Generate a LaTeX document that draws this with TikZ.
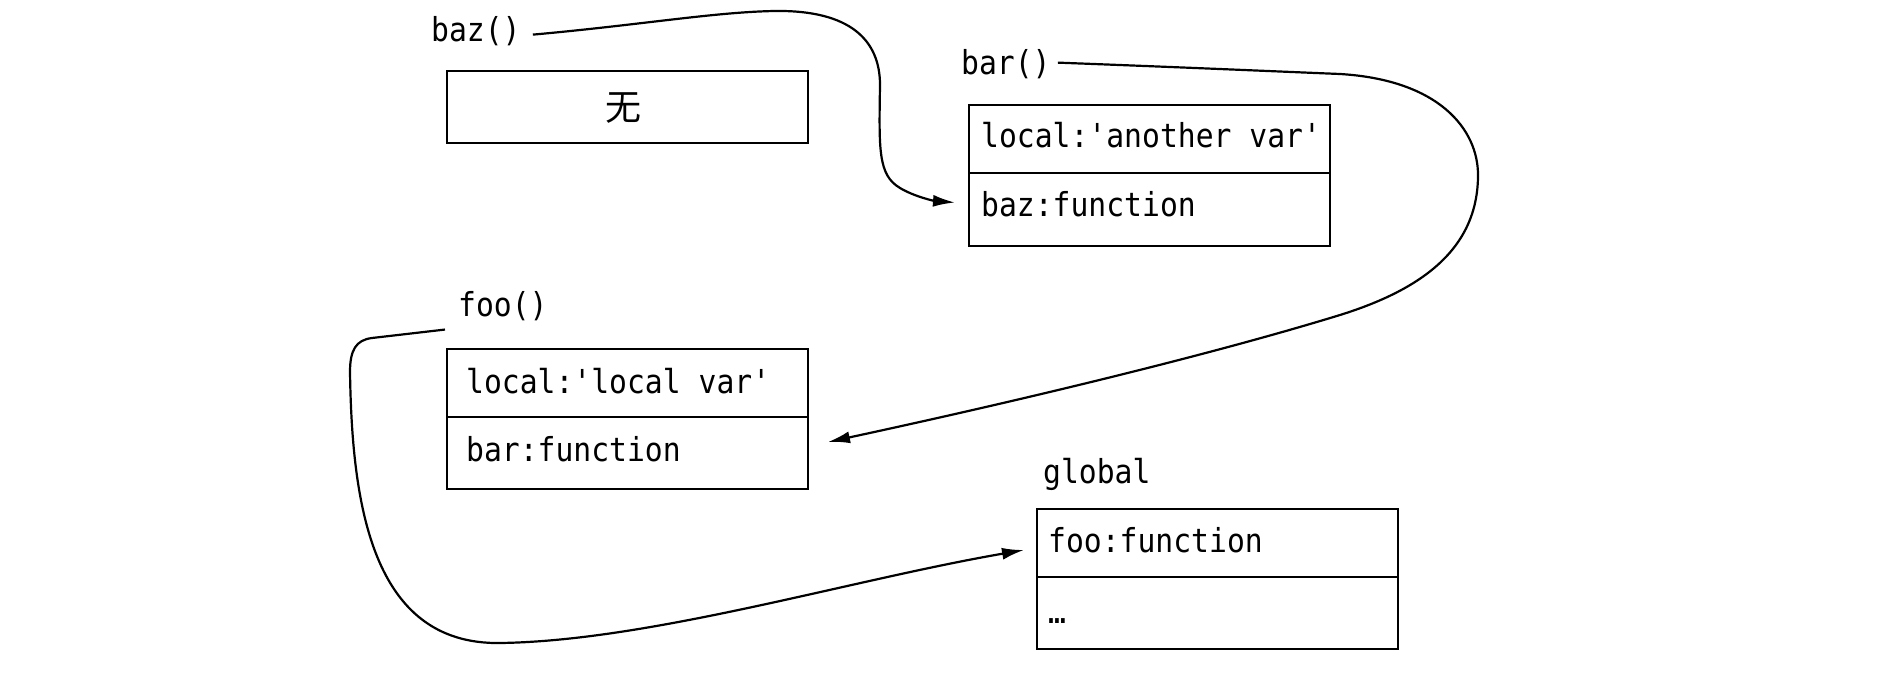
\documentclass[tikz,border=0pt]{standalone}
\usepackage{fontspec}
\setmonofont[FakeStretch=0.9]{DejaVu Sans Mono}
\newfontfamily\cjk{Noto Sans CJK SC}
\usetikzlibrary{arrows.meta}
\begin{document}
\begin{tikzpicture}[x=1pt,y=-1pt,
  cell/.style={draw, line width=2.4pt, minimum width=361pt, minimum height=68pt,
    anchor=north west, inner sep=0pt, outer sep=0pt},
  code/.style={inner sep=0pt, anchor=base west, font=\ttfamily\fontsize{33}{40}\selectfont},
  link/.style={line width=2.2pt, -{Latex[length=22pt,width=12pt]}}]
\useasboundingbox (0,0) rectangle (1882,684);

% scope frames
\node[cell, minimum height=72pt] (none) at (447,71) {};
\node[cell] (barlocal) at (969,105) {};
\node[cell, minimum height=73pt] (barbaz) at (969,173) {};
\node[cell] (foolocal) at (447,349) {};
\node[cell, minimum height=72pt] (foobar) at (447,417) {};
\node[cell] (globfoo) at (1037,509) {};
\node[cell, minimum height=72pt] (globrest) at (1037,577) {};

% frame titles
\node[code] (bazlbl) at (431,42) {baz()};
\node[code] (barlbl) at (961,75) {bar()};
\node[code] (foolbl) at (458,317) {foo()};
\node[code] (globlbl) at (1043,483) {global};

% frame contents
\node[inner sep=0pt, anchor=base, font=\cjk\fontsize{36}{40}\selectfont] (nonetxt) at (623,121) {无};
\node[code] (t1) at (981,148) {local:'another var'};
\node[code] (t2) at (981,217) {baz:function};
\node[code] (t3) at (466,393) {local:'local var'};
\node[code] (t4) at (466,461) {bar:function};
\node[code] (t5) at (1048,552) {foo:function};
\node[code] (t6) at (1048,623) {…};

% scope chain links
\draw[link] ([xshift=12pt,yshift=-3pt]bazlbl.east)
  .. controls (640,25) and (715,12) .. (775,11)
  .. controls (850,10) and (880,40) .. (880,85)
  .. controls (879,150) and (878,175) .. (900,188)
  .. controls (915,197) and (935,201) .. ([xshift=-14pt,yshift=7pt]barbaz.west);

\draw[link] ([xshift=7pt,yshift=2pt]barlbl.east)
  .. controls (1200,68) and (1290,72) .. (1340,74)
  .. controls (1440,80) and (1478,130) .. (1478,175)
  .. controls (1478,250) and (1420,290) .. (1340,315)
  .. controls (1200,358) and (1000,405) .. ([xshift=20pt,yshift=11pt]foobar.east);

\draw[link] ([xshift=-13pt,yshift=-8pt]foolbl.south west) -- (372,338)
  .. controls (356,340) and (350,350) .. (350,372)
  .. controls (352,500) and (370,645) .. (500,643)
  .. controls (650,641) and (850,580) .. ([xshift=-13pt,yshift=-7pt]globfoo.west);
\end{tikzpicture}
\end{document}
